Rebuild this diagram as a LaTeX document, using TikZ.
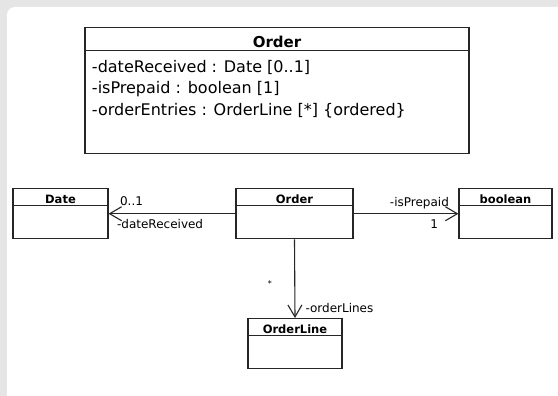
\documentclass[tikz,border=0pt]{standalone}
\usepackage{fontspec}
\setmainfont{DejaVu Sans}
\usetikzlibrary{arrows.meta,positioning,shapes.multipart}

\begin{document}
\begin{tikzpicture}[x=1pt,y=-1pt,
  cls/.style={rectangle split, rectangle split parts=2, anchor=north, draw=black!85, line width=1.1pt, fill=white, inner xsep=2pt, inner ysep=2pt, align=center, font=\fontsize{11.5}{13}\selectfont\bfseries},
  bigcls/.style={rectangle split, rectangle split parts=2, rectangle split part align={center,left}, anchor=north, draw=black!85, line width=1.1pt, fill=white, inner xsep=7pt, inner ysep=2pt, minimum width=384pt, align=left, font=\fontsize{16}{21.5}\selectfont},
  assoc/.style={-{Straight Barb[length=12pt,width=14pt]}, draw=black!85, line width=1.1pt},
  role/.style={font=\fontsize{12}{14}\selectfont, inner sep=0pt}
]
\useasboundingbox (0,0) rectangle (558,396);
\fill[gray!20] (0,0) rectangle (558,396);
\fill[white, rounded corners=8pt] (7,7) rectangle (575,410);

\node[bigcls] (order) at (277,27) {\fontsize{15}{18}\selectfont\bfseries\rule[-1pt]{0pt}{18pt}Order
  \nodepart{two}\rule{0pt}{19pt}-dateReceived : Date [0..1]\\
  -isPrepaid : boolean [1]\\
  -orderEntries : OrderLine [*] \{ordered\}\rule[-36pt]{0pt}{36pt}};

\node[cls, text width=91pt] (date) at (60.5,188) {\rule{0pt}{12pt}Date\nodepart{two}\rule{0pt}{28pt}};
\node[cls, text width=113pt] (ordersm) at (294.5,188) {\rule{0pt}{12pt}Order\nodepart{two}\rule{0pt}{28pt}};
\node[cls, text width=89pt] (boolean) at (505.5,188) {\rule{0pt}{12pt}boolean\nodepart{two}\rule{0pt}{28pt}};
\node[cls, text width=90pt] (orderline) at (295,318) {\rule{0pt}{12pt}OrderLine\nodepart{two}\rule{0pt}{28pt}};

\draw[assoc] (ordersm.west) -- (date.east)
  node[role, pos=1, anchor=base west, xshift=11pt, yshift=8pt] {0..1}
  node[role, pos=1, anchor=base west, xshift=8pt, yshift=-15pt] {-dateReceived};
\draw[assoc] (ordersm.east) -- (boolean.west)
  node[role, pos=1, anchor=base east, xshift=-9pt, yshift=7pt] {-isPrepaid}
  node[role, pos=1, anchor=base east, xshift=-20pt, yshift=-15pt] {1};
\draw[assoc] (ordersm.south) -- (orderline.north)
  node[role, pos=0.56, xshift=-25pt, font=\fontsize{8}{9}\selectfont] {*}
  node[role, pos=1, anchor=base west, xshift=10pt, yshift=6pt] {-orderLines};
\end{tikzpicture}
\end{document}
